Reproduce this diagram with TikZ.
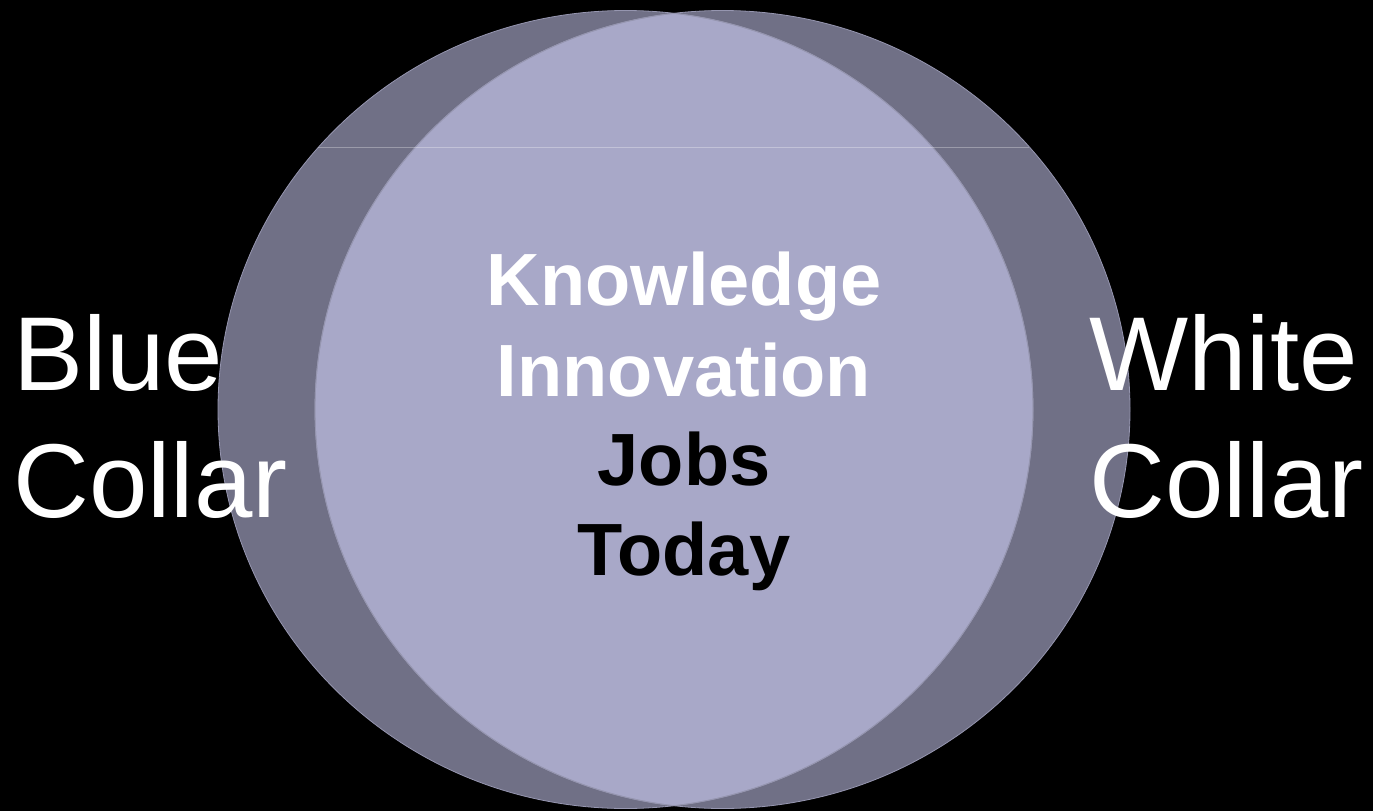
\documentclass[tikz,border=0pt]{standalone}
\usepackage{fontspec}
\setmainfont{Liberation Sans}
\definecolor{ringdark}{RGB}{112,112,134}
\definecolor{ringlight}{RGB}{168,168,200}
\definecolor{ringedge}{RGB}{150,150,176}
\begin{document}
\begin{tikzpicture}[x=1pt,y=-1pt,
  sidetext/.style={inner sep=0pt, text=white, font=\fontsize{105}{127}\selectfont},
  midtext/.style={inner sep=0pt, anchor=base, font=\fontsize{74}{90}\selectfont\bfseries}]
\fill[black] (0,0) rectangle (1373,811);
\useasboundingbox (0,0) rectangle (1373,811);
% two overlapping ellipses
\fill[ringdark] (625.5,409.5) ellipse [x radius=407.5, y radius=399];
\fill[ringdark] (722.5,409.5) ellipse [x radius=407.5, y radius=399];
\begin{scope}
  \clip (625.5,409.5) ellipse [x radius=407.5, y radius=399];
  \fill[ringlight] (722.5,409.5) ellipse [x radius=407.5, y radius=399];
  \draw[ringedge, line width=0.8pt] (722.5,409.5) ellipse [x radius=407.5, y radius=399];
\end{scope}
\begin{scope}
  \clip (722.5,409.5) ellipse [x radius=407.5, y radius=399];
  \draw[ringedge, line width=0.8pt] (625.5,409.5) ellipse [x radius=407.5, y radius=399];
\end{scope}
\draw[ringedge, line width=0.8pt] (625.5,409.5) ellipse [x radius=407.5, y radius=399];
\draw[ringedge, line width=0.8pt] (722.5,409.5) ellipse [x radius=407.5, y radius=399];
% faint horizontal streak
\draw[white, opacity=0.3, line width=1pt] (318,147) -- (1029,147);
% side labels
\node[sidetext, anchor=base west] (blue) at (13,390) {Blue};
\node[sidetext, anchor=base west] (bcollar) at (13,517) {Collar};
\node[sidetext, anchor=base west] (white) at (1089,390) {White};
\node[sidetext, anchor=base west] (wcollar) at (1089,517) {Collar};
% centre labels
\node[midtext, text=white] (know) at (684,305.5) {Knowledge};
\node[midtext, text=white] (innov) at (684,396) {Innovation};
\node[midtext, text=black] (jobs) at (684,485.5) {Jobs};
\node[midtext, text=black] (today) at (684,575.5) {Today};
\end{tikzpicture}
\end{document}
